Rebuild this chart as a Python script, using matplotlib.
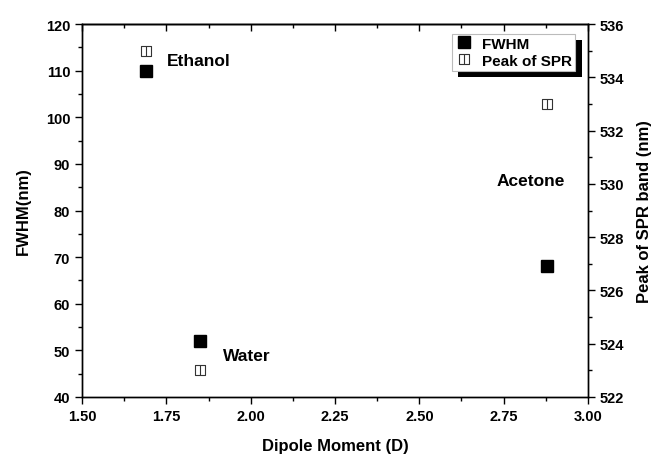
import matplotlib.pyplot as plt
from matplotlib.path import Path
from matplotlib.ticker import MultipleLocator
import matplotlib.patheffects as pe

plt.rcParams['font.family'] = ['Liberation Sans', 'DejaVu Sans']
plt.rcParams['font.weight'] = 'bold'

solvents = ["Ethanol", "Water", "Acetone"]
dipole = [1.69, 1.85, 2.88]
fwhm = [110, 52, 68]
spr_peak = [535.0, 523.0, 533.0]

# label spots for the solvent names
label_x = [1.752, 1.917, 2.73]
label_y = [112.1, 49.0, 86.5]

# square with a vertical line through it
split_square = Path([(-1, -1), (1, -1), (1, 1), (-1, 1), (-1, -1), (0, -1), (0, 1)],
                    [Path.MOVETO, Path.LINETO, Path.LINETO, Path.LINETO, Path.CLOSEPOLY,
                     Path.MOVETO, Path.LINETO])

fig = plt.figure(figsize=(6.52, 4.56), dpi=100)
ax = fig.add_axes([0.1258, 0.1272, 0.776, 0.8178])
ax2 = ax.twinx()

h1, = ax.plot(dipole, fwhm, 's', color='black', markersize=8.4, linestyle='none', label='FWHM')
h2, = ax2.plot(dipole, spr_peak, marker=split_square, markersize=7.5, markerfacecolor='none',
               markeredgecolor='#333333', markeredgewidth=0.8, linestyle='none', label='Peak of SPR')

for name, lx, ly in zip(solvents, label_x, label_y):
    ax.text(lx, ly, name, fontsize=12.5, fontweight='bold', va='center', ha='left')

ax.set_xlim(1.5, 3.0)
ax.set_ylim(40, 120)
ax2.set_ylim(522, 536)

ax.xaxis.set_major_locator(MultipleLocator(0.25))
ax.xaxis.set_minor_locator(MultipleLocator(0.125))
ax.yaxis.set_major_locator(MultipleLocator(10))
ax.yaxis.set_minor_locator(MultipleLocator(5))
ax2.yaxis.set_major_locator(MultipleLocator(2))
ax2.yaxis.set_minor_locator(MultipleLocator(1))
ax.xaxis.set_major_formatter(plt.FormatStrFormatter('%.2f'))

ax.tick_params(axis='both', which='major', direction='out', length=5, width=1, labelsize=10.5)
ax.tick_params(axis='both', which='minor', direction='out', length=3, width=1)
ax2.tick_params(axis='y', which='major', direction='out', length=5, width=1, labelsize=10.5)
ax2.tick_params(axis='y', which='minor', direction='out', length=3, width=1)

top = ax.secondary_xaxis('top')
top.xaxis.set_major_locator(MultipleLocator(0.25))
top.xaxis.set_minor_locator(MultipleLocator(0.125))
top.tick_params(axis='x', which='major', direction='in', length=5, width=1, labeltop=False)
top.tick_params(axis='x', which='minor', direction='in', length=3, width=1)

for a in (ax, ax2):
    for s in a.spines.values():
        s.set_linewidth(1)
top.spines['top'].set_linewidth(1)

ax.set_xlabel('Dipole Moment (D)', fontsize=12, fontweight='bold', labelpad=11)
ax.set_ylabel('FWHM(nm)', fontsize=12, fontweight='bold', labelpad=11)
ax2.set_ylabel('Peak of SPR band (nm)', fontsize=12, fontweight='bold', labelpad=9)

leg = ax2.legend([h1, h2], ['FWHM', 'Peak of SPR'], loc='upper right',
                 bbox_to_anchor=(0.99, 0.995), fancybox=False,
                 edgecolor='#bbbbbb', framealpha=1, borderpad=0.2, handletextpad=0.6,
                 labelspacing=0.2, handlelength=1.2, markerscale=1.0,
                 prop={'weight': 'bold', 'size': 11})
leg.get_frame().set_linewidth(0.8)
leg.get_frame().set_path_effects([pe.SimplePatchShadow(offset=(4.5, -4.5), shadow_rgbFace='black', alpha=1),
                                  pe.Normal()])

fig.savefig('out.png', dpi=100)
